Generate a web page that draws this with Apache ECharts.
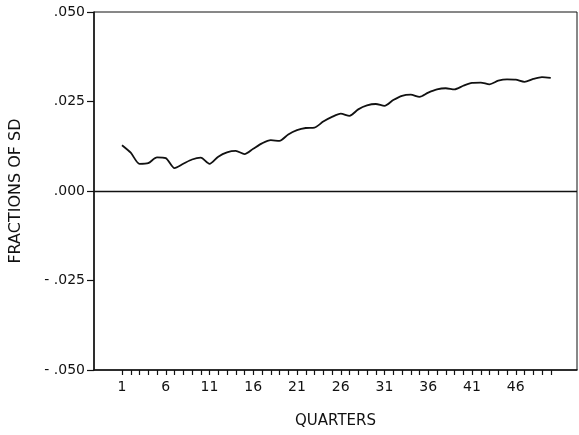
<!DOCTYPE html>
<html>
<head>
<meta charset="utf-8">
<script src="https://cdn.jsdelivr.net/npm/echarts@6/dist/echarts.min.js"></script>
<style>
  html, body { margin: 0; padding: 0; background: #fff; }
  #container { width: 579px; height: 435px; }
</style>
</head>
<body>
<div id="container"></div>
<script>
// quarters 1..50
var quarters = [1,2,3,4,5,6,7,8,9,10,
                11,12,13,14,15,16,17,18,19,20,
                21,22,23,24,25,26,27,28,29,30,
                31,32,33,34,35,36,37,38,39,40,
                41,42,43,44,45,46,47,48,49,50];

// quarters that carry a label under the axis
var tickLabels = [1, 6, 11, 16, 21, 26, 31, 36, 41, 46];

// response, fractions of SD
var values = [0.0128, 0.0107, 0.0076, 0.0078, 0.0094, 0.0092, 0.0064, 0.0076, 0.0088, 0.0093,
              0.0076, 0.0096, 0.0108, 0.0112, 0.0103, 0.0118, 0.0133, 0.0142, 0.0140, 0.0158,
              0.0170, 0.0176, 0.0177, 0.0194, 0.0207, 0.0216, 0.0210, 0.0228, 0.0239, 0.0243,
              0.0238, 0.0254, 0.0266, 0.0269, 0.0263, 0.0275, 0.0284, 0.0287, 0.0284, 0.0294,
              0.0302, 0.0303, 0.0298, 0.0308, 0.0312, 0.0311, 0.0305, 0.0313, 0.0318, 0.0316];

var points = [];
for (var i = 0; i < quarters.length; i++) points.push([quarters[i], values[i]]);

var font = 'DejaVu Sans';
var ink = '#111';

var myChart = echarts.init(document.getElementById('container'));
myChart.setOption({
    animation: false,
    grid: {
        left: 94, right: 2, top: 12, bottom: 65,
        show: true, borderColor: ink, borderWidth: 1,
        containLabel: false, outerBoundsMode: 'none'
    },
    xAxis: [{
        type: 'value',
        min: -2.2, max: 53,
        name: 'QUARTERS',
        nameLocation: 'middle',
        nameGap: 44,
        nameTextStyle: { fontFamily: font, fontSize: 15, color: ink },
        // helper y axis 1 has its zero on the bottom edge
        axisLine: { onZeroAxisIndex: 1, lineStyle: { color: ink, width: 1.5 } },
        axisTick: {
            show: true,
            length: 5,
            customValues: quarters,
            lineStyle: { color: ink, width: 1.2 }
        },
        axisLabel: {
            margin: 10,
            customValues: tickLabels,
            fontFamily: font, fontSize: 14, color: ink
        },
        splitLine: { show: false }
    }, {
        // helper, zero on the left edge, for the y axis to sit on
        type: 'value', min: 0, max: 1, show: false
    }],
    yAxis: [{
        type: 'value',
        min: -0.05, max: 0.05, interval: 0.025,
        name: 'FRACTIONS OF SD',
        nameLocation: 'middle',
        nameGap: 70,
        nameTextStyle: { fontFamily: font, fontSize: 16, color: ink },
        axisLine: { show: true, onZeroAxisIndex: 1, lineStyle: { color: ink, width: 1.5 } },
        axisTick: { show: true, length: 7, lineStyle: { color: ink, width: 1.2 } },
        axisLabel: {
            margin: 9,
            fontFamily: font, fontSize: 14, color: ink,
            formatter: function (v) {
                var s = Math.abs(v).toFixed(3).replace(/^0/, '');
                return v < 0 ? '- ' + s : s;
            }
        },
        splitLine: { show: false }
    }, {
        type: 'value', min: 0, max: 1, show: false
    }],
    series: [{
        type: 'line',
        xAxisIndex: 0,
        yAxisIndex: 0,
        data: points,
        smooth: 0.25,
        showSymbol: false,
        lineStyle: { color: ink, width: 1.8 },
        markLine: {
            silent: true,
            symbol: 'none',
            label: { show: false },
            lineStyle: { color: ink, width: 1.3, type: 'solid' },
            data: [{ yAxis: 0 }]
        }
    }]
});
</script>
</body>
</html>
